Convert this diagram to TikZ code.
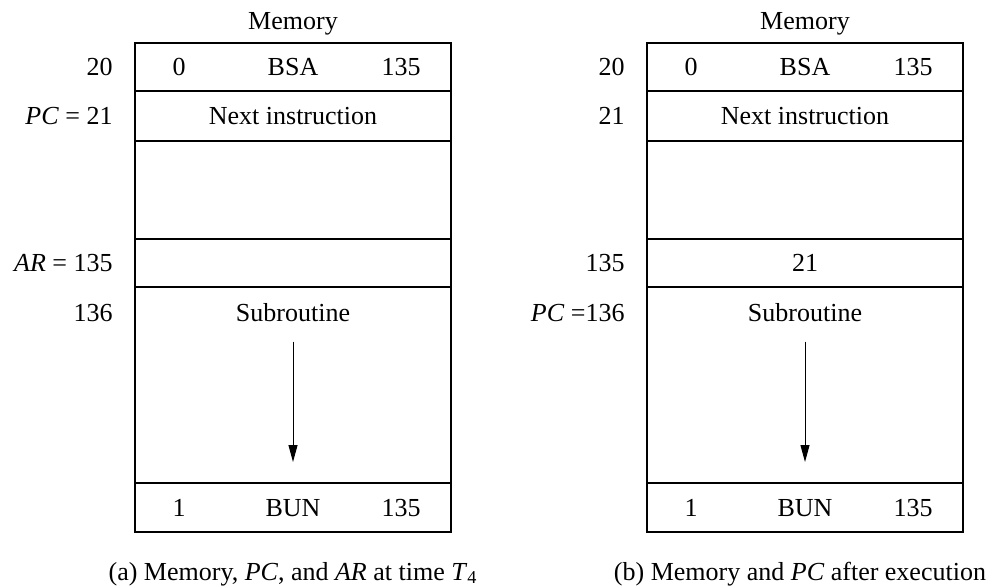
\documentclass[tikz,border=0pt]{standalone}
\usepackage{fontspec}
\setmainfont{Liberation Serif}
\usetikzlibrary{arrows.meta,positioning}
\tikzset{
  memcell/.style={draw,line width=1pt,outer sep=0pt,inner sep=0pt,minimum width=158pt},
  cellentry/.style={text height=9pt,text depth=0.5pt},
  addrlabel/.style={inner sep=0pt,anchor=east,text height=9pt,text depth=0.5pt},
  flowarrow/.style={-{Triangle[length=8.5pt,width=4.5pt]},line width=0.5pt}
}

\begin{document}
\begin{tikzpicture}[x=0.5pt,y=-0.5pt,font=\fontsize{13}{15}\selectfont]
\useasboundingbox (0,0) rectangle (995,588);
% (a) memory at time T4
\node[memcell,minimum height=24pt,anchor=north west] (a1) at (135,43) {};
\node[memcell,cellentry,minimum height=25pt,below=0pt of a1] (a2) {Next instruction};
\node[memcell,minimum height=49pt,below=0pt of a2] (a3) {};
\node[memcell,minimum height=24pt,below=0pt of a3] (a4) {};
\node[memcell,minimum height=98pt,below=0pt of a4] (a5) {};
\node[memcell,minimum height=24.5pt,below=0pt of a5] (a6) {};
\node[above=0.5pt of a1] (amem) {Memory};
\node[cellentry] (aind) at ([xshift=22pt]a1.west) {0};
\node[cellentry] (aop) at (a1) {BSA};
\node[cellentry] (aaddr) at ([xshift=-25pt]a1.east) {135};
\node[cellentry] (asub) at ([yshift=-13pt]a5.north) {Subroutine};
\coordinate (aend) at ([yshift=10.5pt]a5.south);
\draw[flowarrow,shorten <=6pt] (asub.south) -- (aend);
\node[cellentry] (bunind) at ([xshift=22pt]a6.west) {1};
\node[cellentry] (bunop) at (a6) {BUN};
\node[cellentry] (bunaddr) at ([xshift=-25pt]a6.east) {135};
\node[addrlabel] (aloc20) at ([xshift=-11pt]a1.west) {20};
\node[addrlabel] (apc) at ([xshift=-11pt]a2.west) {\textit{PC} = 21};
\node[addrlabel] (aar) at ([xshift=-11pt]a4.west) {\textit{AR} = 135};
\node[addrlabel,xshift=-11pt] (aloc136) at (a5.west |- asub) {136};
\node[below=11.5pt of a6] (acap) {(a) Memory, \textit{PC}, and \textit{AR} at time \textit{T}\textsubscript{4}};

% (b) memory after execution
\node[memcell,minimum height=24pt,anchor=north west] (b1) at (647,43) {};
\node[memcell,cellentry,minimum height=25pt,below=0pt of b1] (b2) {Next instruction};
\node[memcell,minimum height=49pt,below=0pt of b2] (b3) {};
\node[memcell,cellentry,minimum height=24pt,below=0pt of b3] (b4) {21};
\node[memcell,minimum height=98pt,below=0pt of b4] (b5) {};
\node[memcell,minimum height=24.5pt,below=0pt of b5] (b6) {};
\node[above=0.5pt of b1] (bmem) {Memory};
\node[cellentry] (bind) at ([xshift=22pt]b1.west) {0};
\node[cellentry] (bop) at (b1) {BSA};
\node[cellentry] (baddr) at ([xshift=-25pt]b1.east) {135};
\node[cellentry] (bsub) at ([yshift=-13pt]b5.north) {Subroutine};
\coordinate (bend) at ([yshift=10.5pt]b5.south);
\draw[flowarrow,shorten <=6pt] (bsub.south) -- (bend);
\node[cellentry] (bbunind) at ([xshift=22pt]b6.west) {1};
\node[cellentry] (bbunop) at (b6) {BUN};
\node[cellentry] (bbunaddr) at ([xshift=-25pt]b6.east) {135};
\node[addrlabel] (bloc20) at ([xshift=-11pt]b1.west) {20};
\node[addrlabel] (bloc21) at ([xshift=-11pt]b2.west) {21};
\node[addrlabel] (bloc135) at ([xshift=-11pt]b4.west) {135};
\node[addrlabel,xshift=-11pt] (bpc) at (b5.west |- bsub) {\textit{PC} =136};
\node[below=11.5pt of b6,xshift=-2.5pt] (bcap) {(b) Memory and \textit{PC} after execution};
\end{tikzpicture}
\end{document}
